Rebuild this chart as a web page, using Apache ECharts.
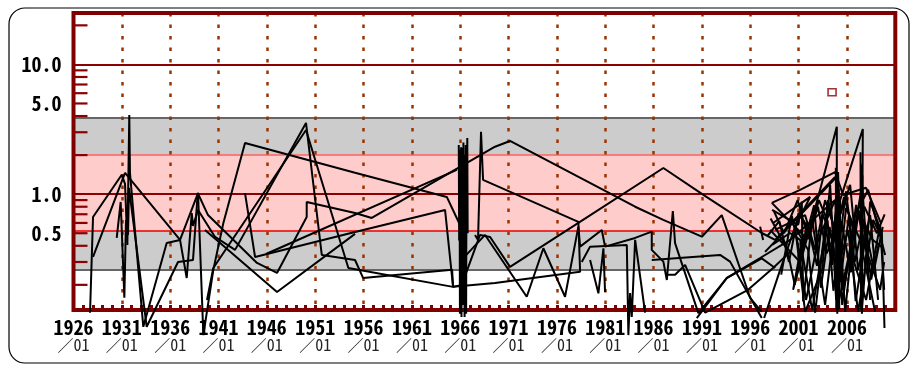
<!DOCTYPE html>
<html>
<head>
<meta charset="utf-8">
<script src="https://cdn.jsdelivr.net/npm/echarts@6/dist/echarts.min.js"></script>
<style>
  html, body { margin: 0; padding: 0; background: #fff; }
  #chart { width: 911px; height: 365px; }
</style>
</head>
<body>
<div id="chart"></div>
<script>
// ---- axis labels / ticks ----
const yearTicks = [1926, 1931, 1936, 1941, 1946, 1951, 1956, 1961, 1966, 1971, 1976, 1981, 1986, 1991, 1996, 2001, 2006];
const monthLabel = '／01';
const yLabelValues = [10, 5, 1, 0.5];
const yLabelTexts = ['10.0', '5.0', '1.0', '0.5'];
const yGridValues = [10, 1];
const yMinorTicks = [0.2, 0.3, 0.4, 0.5, 0.6, 0.7, 0.8, 0.9, 2, 3, 4, 5, 6, 7, 8, 9, 20];

// ---- reference bands ----
const bandLowGray = [0.264, 0.52];
const bandPink = [0.52, 2.0];
const bandHighGray = [2.0, 3.85];

// ---- measured values [year, value] ----
const traceA = [[1927.71,0.122],[1928.02,0.667],[1930.99,1.41],[1931.33,1.20],[1931.57,0.406],[1931.77,4.08],[1931.84,1.46],[1933.22,0.095],[1935.64,0.421],[1937.02,0.444],[1937.71,0.226],[1938.23,0.716],[1938.36,0.569],[1938.88,0.756],[1940.64,0.468],[1942.71,0.372],[1950.05,3.54],[1951.68,0.340],[1955.12,0.311],[1955.95,0.226],[1965.16,0.261],[1965.26,0.193]];
const traceB = [[1928.02,0.328],[1931.33,1.46],[1937.02,0.444],[1938.88,1.02],[1939.43,0.082],[1940.46,0.261],[1941.50,0.600],[1943.74,2.48],[1955.12,1.46],[1964.61,0.952],[1965.98,0.579],[1966.09,0.153]];
const traceC = [[1930.47,0.46],[1930.88,0.871],[1931.26,0.159],[1931.43,0.633],[1931.64,0.485],[1931.74,1.12],[1933.57,0.095],[1936.81,0.300],[1938.36,0.311],[1938.85,1.02],[1939.91,0.69],[1944.98,0.295],[1947.05,0.247],[1950.12,0.667],[1950.12,0.871],[1955.12,0.716],[1956.85,0.656],[1969.60,2.32],[1971.15,2.57],[1984.09,0.80],[1987.00,0.633],[1990.99,0.47],[1993.05,0.69],[1995.98,0.159],[1997.19,0.124]];
const traceD = [[1939.81,0.153],[1940.46,0.270],[1950.05,3.12],[1954.43,0.270],[1965.26,0.193],[1969.60,0.207],[1978.40,0.252],[1978.22,0.611],[1968.36,1.29],[1968.15,3.02],[1967.84,0.444],[1967.53,0.485]];
const traceE = [[1943.74,1.02],[1944.78,0.328],[1955.12,0.511],[1964.43,0.756],[1965.26,0.193],[1966.16,0.200],[1968.05,0.485],[1969.09,0.468],[1971.15,0.275],[1978.22,0.600],[1987.01,1.59],[1991.15,0.986],[1997.19,0.502],[1998.57,0.444],[2004.77,1.36]];
const traceF = [[1939.60,0.53],[1947.05,0.176],[1955.12,0.494]];
const traceG = [[1945.91,0.346],[1965.64,1.54]];
const traceH = [[1965.85,2.39],[1965.89,0.44],[1965.93,2.2],[1965.97,0.12],[1966.01,2.0],[1966.05,0.6],[1966.09,2.3],[1966.13,0.113],[1966.17,1.9],[1966.21,0.5],[1966.25,2.27],[1966.29,0.14],[1966.33,2.5],[1966.37,0.55],[1966.41,2.0],[1966.45,0.113],[1966.49,1.7],[1966.53,0.6],[1966.57,2.39],[1966.61,0.12],[1966.65,1.8],[1966.69,0.7],[1966.73,2.71],[1966.77,0.5]];
const traceI = [[1965.98,0.302],[1968.57,0.485],[1972.88,0.162],[1974.60,0.383],[1976.84,0.162],[1978.22,0.562],[1978.40,0.394],[1980.64,0.53],[1980.98,0.394],[1984.09,0.46],[1985.81,0.514],[1985.81,0.372],[1987.01,0.302],[1987.37,0.218],[1987.99,0.742],[1988.22,0.419],[1990.63,0.121],[1993.57,0.225],[1997.19,0.32],[1998.57,0.270]];
const traceJ = [[1978.57,0.300],[1979.43,0.394],[1983.23,0.406],[1983.39,0.082],[1983.57,0.173],[1983.74,0.113],[1984.09,0.444],[1985.12,0.122]];
const traceK = [[1979.43,0.311],[1980.29,0.172],[1980.81,0.383],[1980.98,0.176]];
const traceL = [[1985.81,0.311],[1992.88,0.340],[1993.91,0.302],[1997.19,0.111]];
const traceM = [[1990.47,0.111],[1993.57,0.226],[1997.02,0.322],[2000.12,0.444],[2004.77,0.90]];
const traceN = [[1987.37,0.239],[1988.22,0.239],[1989.26,0.285],[1991.33,0.122],[1995.77,0.183],[1998.36,0.270],[2000.12,0.359]];
const traceO = [[1997.53,0.359],[2004.95,1.36],[2005.08,0.128],[2005.29,0.90],[2007.64,3.18],[2007.54,0.125],[2008.40,0.875],[2009.61,0.502],[2009.88,0.093]];
const traceP = [[1998.23,0.856],[2001.47,0.485],[2000.43,0.183],[2003.22,1.08],[2004.95,3.31],[2004.95,0.128],[2006.33,0.372],[2007.98,0.153],[2009.43,0.579],[2009.85,0.183]];
const traceQ = [[1998.26,0.756],[2000.95,0.579],[2001.33,0.875],[2001.47,0.149],[2002.40,0.633],[2003.74,0.140],[2005.08,0.986],[2005.81,0.124],[2006.84,0.69],[2008.19,1.08],[2009.95,0.340]];
const traceR = [[1998.36,0.600],[2002.19,0.952],[2000.64,0.559],[2001.98,0.372],[2002.71,0.122],[2004.05,0.90],[2005.29,0.311],[2006.12,0.53],[2007.15,0.124],[2008.71,0.633],[2009.43,0.485]];
const traceS = [[1998.05,0.53],[2001.15,0.300],[2001.77,0.153],[2003.02,0.444],[2004.77,0.90],[2005.60,0.183],[2006.53,0.406],[2007.57,1.18],[2008.40,0.153]];
const traceT = [[1997.43,0.111],[1999.09,0.261],[2000.64,0.559],[2001.67,0.124],[2003.43,0.261],[2004.26,1.18],[2004.88,0.153],[2005.91,0.783],[2007.36,0.444],[2008.91,0.124]];
const traceU = [[1998.26,0.406],[2000.12,0.502],[2001.15,0.444],[2002.40,0.128],[2003.84,0.53],[2004.46,0.285],[2005.08,1.48],[2005.50,0.140],[2006.95,0.826],[2007.98,0.372],[2009.43,0.183],[2009.85,0.300]];
const traceV = [[1998.57,0.53],[2001.67,0.69],[2002.71,0.372],[2003.74,0.90],[2004.77,0.53],[2006.33,1.18],[2007.15,0.261],[2008.40,0.69],[2009.22,0.153]];
const traceW = [[2004.85,1.6],[2004.90,0.13],[2004.95,1.3],[2005.00,0.12],[2005.05,1.45],[2005.10,0.14],[2005.15,1.1],[2005.20,0.13],[2005.25,0.8]];
const traceX = [[2007.40,2.1],[2007.45,0.13],[2007.50,1.7],[2007.55,0.12],[2007.60,1.4]];
const traceY = [[1998.23,0.856],[2001.15,1.08],[2004.77,1.48],[2005.60,0.986],[2007.98,1.12],[2009.50,0.60]];
const traceZ = [[1997.02,0.562],[1997.33,0.444]];
const traceAA = [[1998.4,0.75],[1999.5,0.5],[2000.9,0.9],[2002.0,0.45],[2003.0,0.8],[2003.9,0.35],[2005.4,0.62],[2006.4,0.25],[2007.2,0.75],[2008.6,0.45],[2009.8,0.38]];
const traceAB = [[1998.1,0.65],[1999.8,0.38],[2000.6,0.2],[2001.9,0.6],[2002.9,0.28],[2003.5,0.7],[2004.6,0.42],[2005.7,0.95],[2006.6,0.55],[2007.8,0.8],[2009.1,0.5],[2009.9,0.7]];
const traceAC = [[1999.2,0.24],[2000.3,0.68],[2001.2,0.33],[2002.6,0.82],[2003.3,0.19],[2004.2,0.56],[2005.3,0.21],[2006.2,0.68],[2006.9,0.15],[2008.0,0.5],[2008.8,0.26],[2009.7,0.56]];
const traceAD = [[1997.8,0.48],[1999.0,0.62],[2000.0,0.3],[2001.0,0.72],[2002.2,0.52],[2003.1,0.9],[2004.0,0.62],[2004.6,0.18],[2005.9,1.05],[2006.8,0.3],[2007.7,0.6],[2008.5,0.22],[2009.3,0.42]];
const markerPoints = [[2004.46, 6.1]];

const traces = [traceA, traceB, traceC, traceD, traceE, traceF, traceG, traceH, traceI, traceJ, traceK, traceL, traceM,
                traceN, traceO, traceP, traceQ, traceR, traceS, traceT, traceU, traceV, traceW, traceX, traceY, traceZ,
                traceAA, traceAB, traceAC, traceAD];

const FONT = '"Noto Sans Mono CJK JP", "Noto Sans CJK JP", sans-serif';
const GRID = { left: 73.5, right: 15.7, top: 13, bottom: 55 };

const chart = echarts.init(document.getElementById('chart'), null, { renderer: 'canvas' });

const lineSeries = traces.map((d, i) => ({
  type: 'line',
  name: 'trace' + i,
  data: d,
  symbol: 'none',
  clip: false,
  silent: true,
  z: 2,
  lineStyle: { color: '#000', width: 2 }
}));

const edgeLine = (v, color, width) => ({ yAxis: v, lineStyle: { color, width, type: 'solid' }, label: { show: false } });

const markLineData = [
  edgeLine(bandHighGray[1], '#666666', 2),
  edgeLine(bandPink[1], '#ff6060', 1.5),
  edgeLine(bandLowGray[1], '#ee0000', 1.5),
  edgeLine(bandLowGray[0], '#666666', 2)
];
yGridValues.forEach(v => markLineData.push(edgeLine(v, '#8b0000', 2)));
yLabelValues.forEach((v, i) => markLineData.push({
  yAxis: v,
  lineStyle: { color: 'rgba(0,0,0,0)', width: 0.1, type: 'solid' },
  label: {
    show: true, position: 'start', distance: 12, formatter: yLabelTexts[i],
    color: '#000', fontSize: 20, fontWeight: 'bold', fontFamily: FONT
  }
}));

const option = {
  animation: false,
  backgroundColor: '#fff',
  textStyle: { fontFamily: FONT },
  grid: { left: GRID.left, right: GRID.right, top: GRID.top, bottom: GRID.bottom, show: false },
  xAxis: {
    type: 'value',
    min: 1926, max: 2011, interval: 5,
    z: 1.2,
    axisLine: { show: false },
    axisTick: { show: true, inside: true, length: 5, lineStyle: { color: '#800000', width: 3 } },
    minorTick: { show: true, splitNumber: 5, length: 5, lineStyle: { color: '#800000', width: 3 } },
    splitLine: { show: true, lineStyle: { color: '#993300', width: 2.5, type: [3.5, 8] } },
    axisLabel: {
      margin: 8,
      showMaxLabel: false,
      formatter: v => yearTicks.includes(v) ? '{y|' + v + '}\n{m|' + monthLabel + '}' : '',
      rich: {
        y: { fontSize: 20, fontWeight: 'bold', color: '#000', lineHeight: 18, fontFamily: FONT },
        m: { fontSize: 16, color: '#222', lineHeight: 17, fontFamily: FONT }
      }
    }
  },
  yAxis: {
    type: 'log', logBase: 10,
    min: 0.128, max: 24.9,
    axisLine: { show: false },
    axisTick: { show: false },
    axisLabel: { show: false },
    splitLine: { show: false }
  },
  graphic: [
    { type: 'rect', z: 0, silent: true,
      shape: { x: 9, y: 8, width: 900, height: 355, r: 16 },
      style: { fill: '#fff', stroke: '#000', lineWidth: 1.2 } },
    { type: 'rect', z: 1.5, silent: true,
      shape: { x: GRID.left, y: GRID.top, width: 911 - GRID.left - GRID.right, height: 365 - GRID.top - GRID.bottom },
      style: { fill: 'none', stroke: '#800000', lineWidth: 4 } }
  ],
  series: [
    {
      type: 'scatter',
      name: 'marker',
      data: markerPoints,
      symbol: 'rect',
      symbolSize: [8, 7],
      silent: true,
      z: 3,
      itemStyle: { color: '#fff', borderColor: '#8b0000', borderWidth: 1.5 },
      markArea: {
        silent: true, z: 1,
        data: [
          [{ yAxis: bandLowGray[0], itemStyle: { color: '#cccccc' } }, { yAxis: bandLowGray[1] }],
          [{ yAxis: bandPink[0], itemStyle: { color: '#ffcccc' } }, { yAxis: bandPink[1] }],
          [{ yAxis: bandHighGray[0], itemStyle: { color: '#cccccc' } }, { yAxis: bandHighGray[1] }]
        ]
      },
      markLine: {
        silent: true, z: 1.1,
        symbol: ['none', 'none'],
        label: { show: false },
        data: markLineData
      }
    },
    {
      type: 'custom',
      name: 'yMinorTicks',
      silent: true,
      clip: false,
      z: 1.6,
      data: yMinorTicks.map(v => [1926, v]),
      renderItem: (params, api) => {
        const p = api.coord([api.value(0), api.value(1)]);
        return {
          type: 'line',
          shape: { x1: p[0], y1: p[1], x2: p[0] + 14, y2: p[1] },
          style: { stroke: '#8b0000', lineWidth: 2.2 }
        };
      }
    }
  ].concat(lineSeries)
};

chart.setOption(option);
</script>
</body>
</html>
